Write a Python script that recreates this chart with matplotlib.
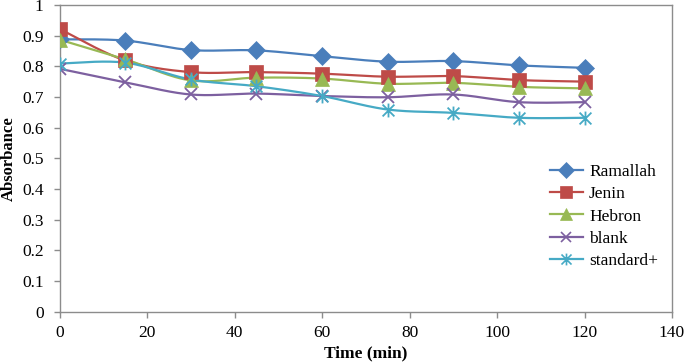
import numpy as np
import matplotlib
matplotlib.use("Agg")
import matplotlib.pyplot as plt
from matplotlib.path import Path
from matplotlib.lines import Line2D

time = [0, 15, 30, 45, 60, 75, 90, 105, 120]
ramallah = [0.888, 0.884, 0.853, 0.852, 0.833, 0.815, 0.817, 0.803, 0.795]
jenin = [0.922, 0.819, 0.781, 0.781, 0.776, 0.766, 0.768, 0.755, 0.750]
hebron = [0.887, 0.823, 0.754, 0.763, 0.760, 0.743, 0.746, 0.733, 0.728]
blank = [0.792, 0.748, 0.708, 0.711, 0.703, 0.699, 0.708, 0.683, 0.683]
standard = [0.809, 0.812, 0.757, 0.735, 0.703, 0.659, 0.648, 0.632, 0.632]

labels = ["Ramallah", "Jenin", "Hebron", "blank", "standard+"]
colors = ["#4A7EBB", "#BE4B48", "#98B954", "#7D60A0", "#46AAC5"]

star = Path([(0, -1), (0, 1), (-0.85, -0.85), (0.85, 0.85), (-0.85, 0.85), (0.85, -0.85)],
            [Path.MOVETO, Path.LINETO, Path.MOVETO, Path.LINETO, Path.MOVETO, Path.LINETO])
markers = ["D", "s", "^", "x", star]
msizes = [9, 9.5, 9.5, 8.5, 10]

plt.rcParams['font.family'] = ['Liberation Serif', 'DejaVu Serif']


def smooth(xs, ys, n=30):
    xs = np.asarray(xs, float)
    ys = np.asarray(ys, float)
    px, py = [], []
    m = len(xs)
    for i in range(m - 1):
        x0, y0 = xs[max(i - 1, 0)], ys[max(i - 1, 0)]
        x1, y1 = xs[i], ys[i]
        x2, y2 = xs[i + 1], ys[i + 1]
        x3, y3 = xs[min(i + 2, m - 1)], ys[min(i + 2, m - 1)]
        c1x, c1y = x1 + (x2 - x0) / 6, y1 + (y2 - y0) / 6
        c2x, c2y = x2 - (x3 - x1) / 6, y2 - (y3 - y1) / 6
        t = np.linspace(0, 1, n)
        bx = (1 - t) ** 3 * x1 + 3 * (1 - t) ** 2 * t * c1x + 3 * (1 - t) * t ** 2 * c2x + t ** 3 * x2
        by = (1 - t) ** 3 * y1 + 3 * (1 - t) ** 2 * t * c1y + 3 * (1 - t) * t ** 2 * c2y + t ** 3 * y2
        px.extend(bx)
        py.extend(by)
    return px, py


fig = plt.figure(figsize=(6.85, 3.63), dpi=100)
ax = fig.add_axes([59.5 / 685, 1 - 311.5 / 363, 612.5 / 685, (311.5 - 5) / 363])

series = [ramallah, jenin, hebron, blank, standard]
handles = []
for ys, lab, c, mk, ms in zip(series, labels, colors, markers, msizes):
    sx, sy = smooth(time, ys)
    ax.plot(sx, sy, color=c, lw=1.6, zorder=2)
    lined = mk in ("x",) or mk is star
    ax.plot(time, ys, linestyle="none", marker=mk, ms=ms, color=c,
            mew=1.3 if lined else 0.5, mfc=("none" if lined else c), mec=c, zorder=3)
    handles.append(Line2D([0], [0], color=c, lw=1.6, marker=mk, ms=ms * 0.85,
                          mew=1.2 if lined else 0.5, mfc=("none" if lined else c), mec=c))

ax.set_xlim(0, 140)
ax.set_ylim(0, 1)
ax.set_xticks(range(0, 141, 20))
ax.set_yticks(np.arange(0, 1.01, 0.1))
ax.set_yticklabels(["0", "0.1", "0.2", "0.3", "0.4", "0.5", "0.6", "0.7", "0.8", "0.9", "1"])
for s in ax.spines.values():
    s.set_color("#8C8C8C")
    s.set_linewidth(1.0)
ax.tick_params(axis="both", direction="out", length=4, width=1, color="#8C8C8C",
               labelsize=12.5)
ax.tick_params(axis="x", pad=5.5)
ax.tick_params(axis="y", pad=7.5)
ax.set_xlabel("Time (min)", fontsize=12.5, fontweight="bold")
ax.set_ylabel("Absorbance", fontsize=12, fontweight="bold")
ax.xaxis.set_label_coords(0.5, -0.11)
ax.yaxis.set_label_coords(-0.069, 0.5)

ax.legend(handles, labels, loc="center left", bbox_to_anchor=(0.80, 0.31),
          frameon=False, fontsize=12.5, handlelength=1.95, handletextpad=0.33,
          labelspacing=0.36, borderpad=0, borderaxespad=0)

fig.savefig("out.png", dpi=100)
